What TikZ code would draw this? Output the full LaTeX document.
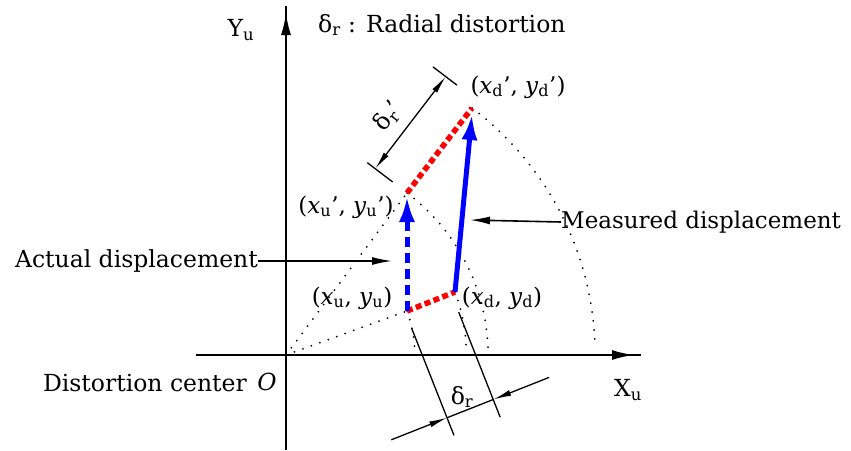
\documentclass[tikz,border=0pt]{standalone}
\usepackage{fontspec}
\setmainfont{DejaVu Serif}
\usetikzlibrary{arrows.meta}
\begin{document}
\begin{tikzpicture}[x=1pt,y=-1pt,
  lbl/.style={inner sep=0pt, font=\fontsize{23.5}{26}\selectfont},
  ptlbl/.style={inner sep=0pt, font=\fontsize{23}{25}\selectfont},
  axisline/.style={line width=2pt},
  axistip/.style={line width=2pt,-{Latex[length=22pt,width=10pt]}},
  dotline/.style={line width=2pt, line cap=round, dash pattern=on 0pt off 9pt},
  bluedash/.style={blue, line width=5pt, dash pattern=on 10pt off 6pt, -{Latex[length=26pt,width=16pt]}},
  bluesolid/.style={blue, line width=5pt, -{Latex[length=26pt,width=16pt]}},
  reddash/.style={red, line width=5.5pt, dash pattern=on 6pt off 3.5pt},
  extline/.style={line width=1.3pt},
  dimarrow/.style={line width=1.3pt, -{Latex[length=18pt,width=6pt]}},
  dimboth/.style={line width=1.3pt, {Latex[length=18pt,width=6pt]}-{Latex[length=18pt,width=6pt]}},
  callout/.style={line width=1.6pt, -{Latex[length=20pt,width=8pt]}}
]
\useasboundingbox (0,0) rectangle (851,450);

% main points
\coordinate (O) at (286,355);
\coordinate (U) at (407,311);
\coordinate (D) at (455,292);
\coordinate (Up) at (407,193);
\coordinate (Dp) at (472,108);

% axes
\coordinate (ybot) at (286,450);
\coordinate (ytop) at (286,6);
\coordinate (ytipA) at (286,40);
\coordinate (ytipB) at (286,13);
\coordinate (xleft) at (196,355);
\coordinate (xright) at (641,355);
\coordinate (xtipA) at (608,355);
\coordinate (xtipB) at (634,355);
\draw[axisline] (ybot) -- (ytop);
\draw[axistip] (ytipA) -- (ytipB);
\draw[axisline] (xleft) -- (xright);
\draw[axistip] (xtipA) -- (xtipB);

% dotted rays and arcs
\draw[dotline] (O) -- (U);
\draw[dotline] (O) -- (Up);
\draw[dotline] (Dp) arc[start angle=-53.0, end angle=-2, radius=309.2];
\draw[dotline] (Up) arc[start angle=-53.2, end angle=-2, radius=202.2];
\draw[dotline] (D) arc[start angle=-20.45, end angle=-2, radius=180.4];
\draw[dotline] (U) arc[start angle=-20, end angle=-2, radius=128.8];

% displacements
\coordinate (Uptip) at (407,196);
\coordinate (Dptip) at (472,114);
\draw[reddash] (U) -- (D);
\draw[reddash] (Up) -- (Dp);
\draw[bluedash] (U) -- (Uptip);
\draw[bluesolid] (D) -- (Dptip);

% dimension delta_r'
\coordinate (e1a) at (392.7,182);
\coordinate (e1b) at (367.3,162.7);
\coordinate (e2a) at (456.9,85.1);
\coordinate (e2b) at (433,66.9);
\coordinate (dA) at (375.2,168.7);
\coordinate (dB) at (445.7,76.6);
\draw[extline] (e1a) -- (e1b);
\draw[extline] (e2a) -- (e2b);
\draw[dimboth] (dA) -- (dB);
\node[lbl, rotate=53] (drp) at (388,116) {δ\textsubscript{r}'};

% dimension delta_r
\coordinate (f1a) at (411.7,328.4);
\coordinate (f1b) at (454.0,435.4);
\coordinate (f2a) at (458.7,312.1);
\coordinate (f2b) at (500.2,417.2);
\coordinate (p1) at (447.1,417.7);
\coordinate (p2) at (493.3,399.5);
\coordinate (b1) at (391.3,439.8);
\coordinate (b2) at (549.1,377.4);
\draw[extline] (f1a) -- (f1b);
\draw[extline] (f2a) -- (f2b);
\draw[extline] (p1) -- (p2);
\draw[dimarrow] (b1) -- (p1);
\draw[dimarrow] (b2) -- (p2);
\node[lbl] (dr) at (462,397) {δ\textsubscript{r}};

% texts
\node[lbl, anchor=west] (radial) at (318,25) {δ\textsubscript{r} : Radial distortion};
\node[lbl] (Yu) at (241,30) {Y\textsubscript{u}};
\node[lbl] (Xu) at (628,390) {X\textsubscript{u}};
\node[lbl, anchor=east] (dc) at (247,383) {Distortion center};
\node[lbl] (Olbl) at (267,382) {\textit{O}};
\node[lbl, anchor=west, font=\fontsize{23}{26}\selectfont] (md) at (561,222) {Measured displacement};
\node[lbl, anchor=east] (ad) at (258,261) {Actual displacement};

\node[ptlbl] (lDp) at (518,87) {(\textit{x}\textsubscript{d}', \textit{y}\textsubscript{d}')};
\node[ptlbl] (lUp) at (346,207) {(\textit{x}\textsubscript{u}', \textit{y}\textsubscript{u}')};
\node[ptlbl] (lU) at (352,298) {(\textit{x}\textsubscript{u}, \textit{y}\textsubscript{u})};
\node[ptlbl] (lD) at (502,298) {(\textit{x}\textsubscript{d}, \textit{y}\textsubscript{d})};

% callouts
\coordinate (adtip) at (392,261);
\coordinate (mdtip) at (470,220);
\draw[callout] (ad.east) -- (adtip);
\draw[callout] (md.west) -- (mdtip);
\end{tikzpicture}
\end{document}
